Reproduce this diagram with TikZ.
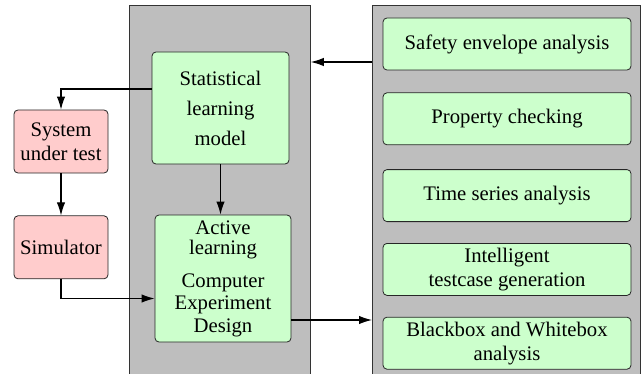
\documentclass[tikz,border=0pt]{standalone}
\usepackage{fontspec}
\setmainfont{Liberation Serif}
\usetikzlibrary{arrows.meta}
\usetikzlibrary{calc}
\usetikzlibrary{positioning}
\definecolor{lgreen}{HTML}{CCFFCC}
\definecolor{lpink}{HTML}{FFCCCC}
\definecolor{pgray}{HTML}{BEBEBE}
\tikzstyle{panel} = [rectangle, draw=black!80, fill=pgray, anchor=north west,
    inner sep=0pt, minimum height=200pt]
\tikzstyle{gblock} = [rectangle, draw=black!85, fill=lgreen,
    text centered, rounded corners=2pt, inner sep=1pt]
\tikzstyle{pblock} = [rectangle, draw=black!85, fill=lpink,
    text centered, rounded corners=2pt, inner sep=1pt,
    minimum width=47pt, minimum height=31.5pt]
\tikzstyle{tblock} = [gblock, minimum width=124pt, minimum height=26pt]
\tikzstyle{line} = [draw, line width=0.55pt, -{Latex[length=6.5pt,width=4.2pt]}]

\begin{document}
\begin{tikzpicture}[x=0.5pt, y=-0.5pt, every text node part/.style={align=center},
    font=\fontsize{10.35}{12}\selectfont]
\useasboundingbox (0,0) rectangle (642,374);
% grey panels
	\node [panel, minimum width=90.5pt] (core) at (129,5) {};
	\node [panel, minimum width=134pt] (tools) at (372,5) {};

	\node [gblock, minimum width=68.5pt, minimum height=56pt] (stat) at (220.5,108)
		{Statistical\\[3pt]learning\\[3pt]model};
	\node [gblock, minimum width=68pt, minimum height=63.5pt] (active) at (223,278.5)
		{Active\\[-2pt]learning\\[4.5pt]Computer\\[-1pt]Experiment\\[-0.5pt]Design};

	\node [pblock] (sut) at (61,141.5) {System\\under test};
	\node [pblock, below=21pt of sut] (sim) {Simulator};

	\node [tblock] (safety) at (507,44) {Safety envelope analysis};
	\node [tblock, below=11pt of safety] (prop) {Property checking};
	\node [tblock, below=12pt of prop] (tseries) {Time series analysis};
	\node [tblock, below=10.5pt of tseries] (testgen) {Intelligent\\testcase generation};
	\node [tblock, below=10.5pt of testgen] (bbox) {Blackbox and Whitebox\\analysis};

	\path [line] ([yshift=9.5pt]stat.west) -| (sut.north);
	\path [line] (sut) -- (sim);
	\path [line] (sim.south) |- ([yshift=-10pt]active.west);
	\path [line] (stat.south) -- (stat.south |- active.north);
	\path [line] ($(safety.west -| tools.west)+(0,18)$) -- ($(safety.west -| core.east)+(0,18)$);
	\path [line] ($(active.east)+(0,41.5)$) -- ($(active.east -| tools.west)+(0,41.5)$);
\end{tikzpicture}
\end{document}
